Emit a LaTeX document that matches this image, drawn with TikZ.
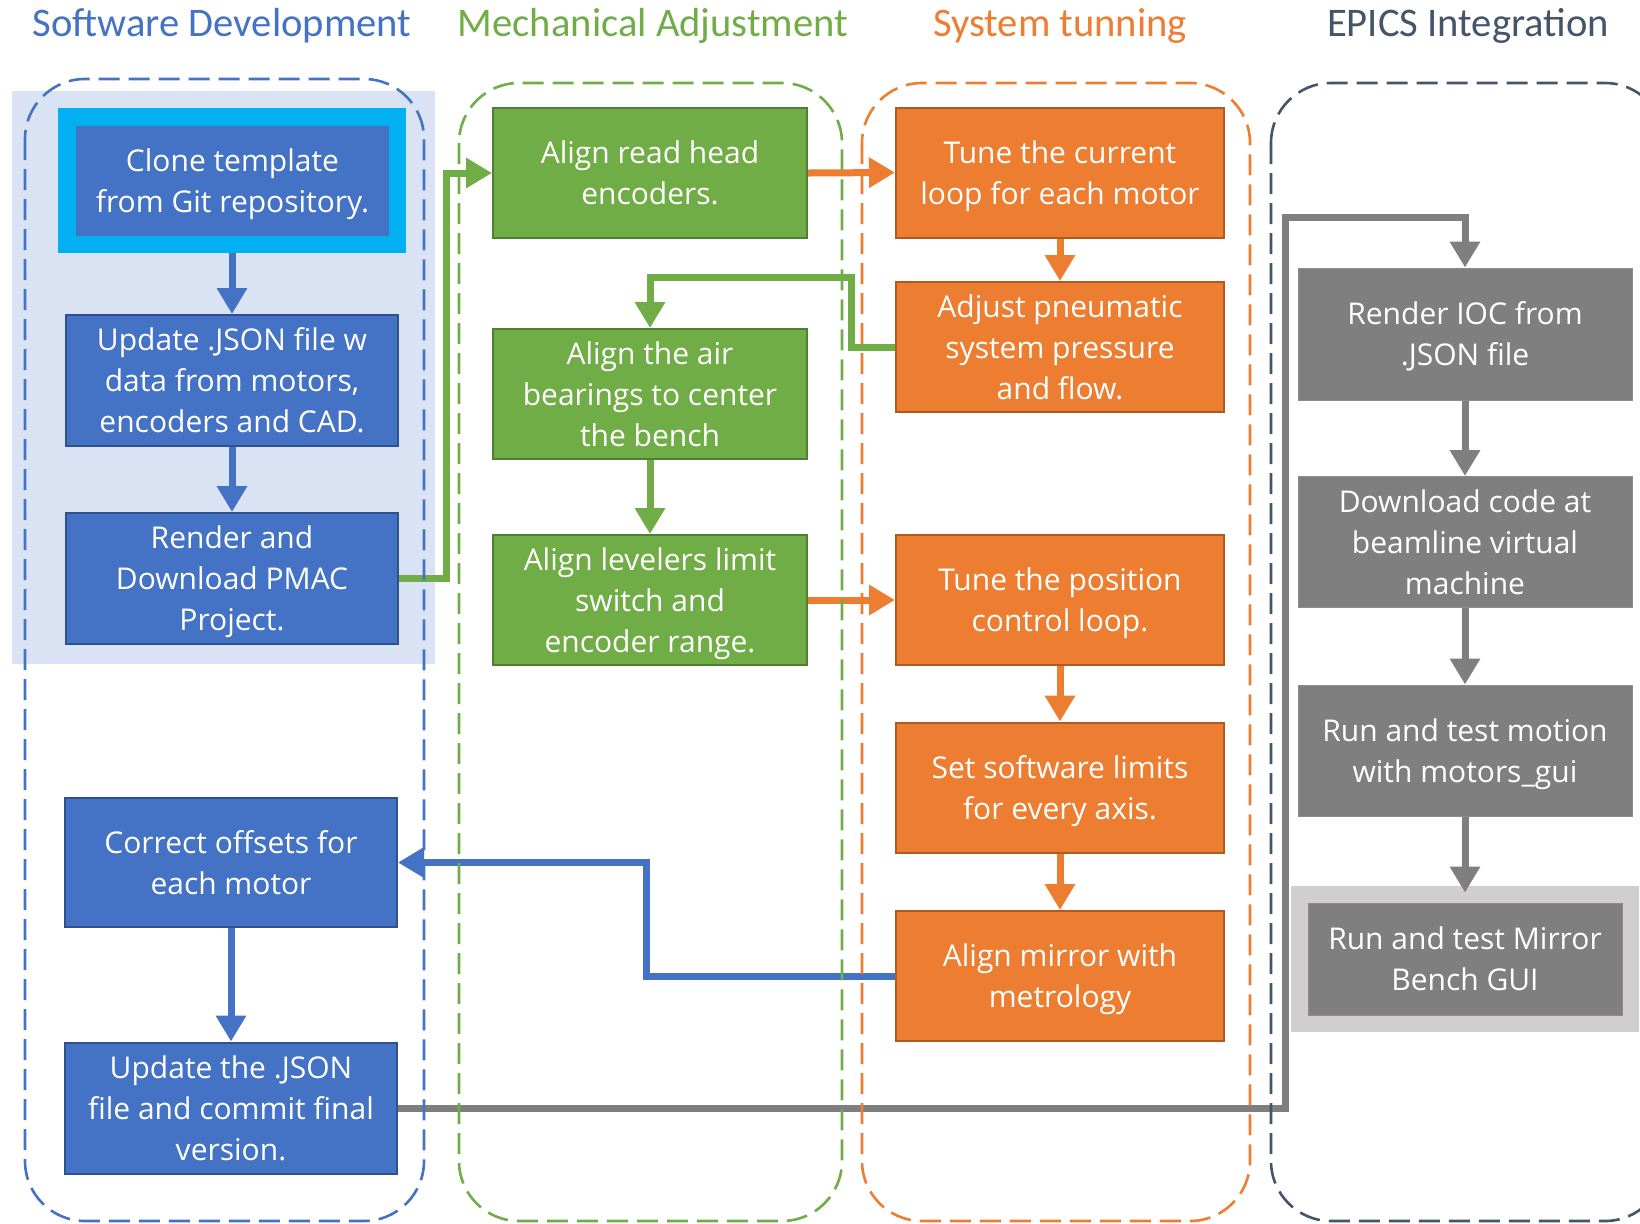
\documentclass[tikz,border=0pt]{standalone}
\usepackage{fontspec}
\setmainfont{Open Sans}
\newfontfamily\titlefont{Carlito}
\usetikzlibrary{arrows.meta}

\definecolor{swblue}{HTML}{4472C4}
\definecolor{swblueedge}{HTML}{2F528F}
\definecolor{swbluebg}{HTML}{DAE3F3}
\definecolor{hlcyan}{HTML}{00B0F0}
\definecolor{mechgreen}{HTML}{70AD47}
\definecolor{mechgreenedge}{HTML}{507E32}
\definecolor{tuneorange}{HTML}{ED7D31}
\definecolor{tuneorangeedge}{HTML}{AE5A21}
\definecolor{epicsgray}{HTML}{7F7F7F}
\definecolor{epicsgrayedge}{HTML}{8C8C8C}
\definecolor{epicsslate}{HTML}{44546A}
\definecolor{hlgray}{HTML}{D0CECE}

% centred block of lines, set a little low in its box
\newcommand\steptext[1]{\raisebox{-1.6pt}[\height][\depth]{\begin{tabular}{@{}c@{}}#1\end{tabular}}}

\begin{document}
\begin{tikzpicture}[x=0.5pt,y=-0.5pt,
  stepbox/.style={rectangle, inner sep=0pt, align=center, text=white,
    font=\fontsize{15}{20.5}\selectfont, line width=1pt},
  swbox/.style={stepbox, fill=swblue, draw=swblueedge,
    minimum width=166pt, minimum height=65.5pt},
  mechbox/.style={stepbox, fill=mechgreen, draw=mechgreenedge,
    minimum width=157pt, minimum height=65pt},
  tunebox/.style={stepbox, fill=tuneorange, draw=tuneorangeedge,
    minimum width=164pt, minimum height=65pt},
  epicsbox/.style={stepbox, fill=epicsgray, draw=epicsgrayedge, line width=0.5pt,
    minimum width=167pt, minimum height=65.5pt},
  halo/.style={rectangle, inner sep=0pt, minimum width=174pt, minimum height=72.5pt},
  lane/.style={line width=1.3pt, dash pattern=on 10.5pt off 4.5pt, rounded corners=30pt},
  lanetitle/.style={anchor=base, font=\titlefont\fontsize{20.3}{24}\selectfont},
  flow/.style={line width=3.5pt, -{Triangle[length=13pt,width=14.5pt]}}
]
\useasboundingbox (0,0) rectangle (1640,1223);
\clip (0,0) rectangle (1640,1223);

% lane titles
\node[lanetitle, text=swblue]     (tsw)   at (222,36)  {Software Development};
\node[lanetitle, text=mechgreen]  (tmech) at (653,36)  {Mechanical Adjustment};
\node[lanetitle, text=tuneorange] (ttune) at (1060,36) {System tunning};
\node[lanetitle, text=epicsslate] (tepics) at (1468,36) {EPICS Integration};

% shaded group behind the first three software steps
\fill[swbluebg] (12,91) rectangle (435,664);

% highlight frames
\node[halo, fill=hlcyan] (cloneHL) at (232,180.5) {};
\node[halo, fill=hlgray, minimum height=73pt] (guiHL) at (1465,959) {};

% Software Development
\node[swbox, fill=swblue, draw=none, minimum width=156.5pt, minimum height=55pt]
  (clone) at (232.5,181) {\steptext{Clone template\\from Git repository.}};
\node[swbox] (upd)  at (232,380.5) {\steptext{Update .JSON file w\\data from motors,\\encoders and CAD.}};
\node[swbox] (rend) at (232,578.5) {\steptext{Render and\\Download PMAC\\Project.}};
\node[swbox, minimum height=64.5pt] (corr) at (231,862.5) {\steptext{Correct offsets for\\each motor}};
\node[swbox] (fin)  at (231,1108) {\steptext{Update the .JSON\\file and commit final\\version.}};

% Mechanical Adjustment
\node[mechbox] (read) at (650,173) {\steptext{Align read head\\encoders.}};
\node[mechbox] (air)  at (650,394) {\steptext{Align the air\\bearings to center\\the bench}};
\node[mechbox] (lev)  at (650,600) {\steptext{Align levelers limit\\switch and\\encoder range.}};

% System tunning
\node[tunebox] (cur) at (1060,172.5) {\steptext{Tune the current\\loop for each motor}};
\node[tunebox] (pne) at (1060,347)   {\steptext{Adjust pneumatic\\system pressure\\and flow.}};
\node[tunebox] (pos) at (1060,600)   {\steptext{Tune the position\\control loop.}};
\node[tunebox] (lim) at (1060,787.5) {\steptext{Set software limits\\for every axis.}};
\node[tunebox] (mir) at (1060,976)   {\steptext{Align mirror with\\metrology}};

% EPICS Integration
\node[epicsbox, minimum height=66pt] (ioc) at (1465,334) {\steptext{Render IOC from\\.JSON file}};
\node[epicsbox] (dl)  at (1465,542)   {\steptext{Download code at\\beamline virtual\\machine}};
\node[epicsbox] (run) at (1465,750.5) {\steptext{Run and test motion\\with motors\_gui}};
\node[epicsbox, minimum width=157pt, minimum height=56pt] (gui) at (1465,959)
  {\steptext{Run and test Mirror\\Bench GUI}};

% connectors
\draw[flow, swblue] (cloneHL.south) -- (upd.north);
\draw[flow, swblue] (upd.south) -- (rend.north);
\draw[flow, swblue] (corr.south) -- (fin.north);
\draw[flow, swblue] (mir.west) -- ++(-249,0) |- (corr.east);

\draw[flow, mechgreen] (rend.east) -- ++(47,0) |- (read.west);
\draw[flow, mechgreen] (pne.west) -- ++(-44,0) -- ++(0,-70) -| (air.north);
\draw[flow, mechgreen] (air.south) -- (lev.north);

\draw[flow, tuneorange] (read.east) -- (cur.west);
\draw[flow, tuneorange] (cur.south) -- (pne.north);
\draw[flow, tuneorange] (lev.east) -- (pos.west);
\draw[flow, tuneorange] (pos.south) -- (lim.north);
\draw[flow, tuneorange] (lim.south) -- (mir.north);

\draw[flow, epicsgray] (fin.east) -- ++(887,0) -- ++(0,-891) -| (ioc.north);
\draw[flow, epicsgray] (ioc.south) -- (dl.north);
\draw[flow, epicsgray] (dl.south) -- (run.north);
\draw[flow, epicsgray] (run.south) -- ([yshift=5pt]gui.north);

% dashed swim lanes
\draw[lane, swblue]     (25,79)   rectangle (424,1221);
\draw[lane, mechgreen]  (459,83)  rectangle (842,1221);
\draw[lane, tuneorange] (862,83)  rectangle (1250,1221);
\draw[lane, epicsslate] (1271,83) rectangle (1665,1221);
\end{tikzpicture}
\end{document}
